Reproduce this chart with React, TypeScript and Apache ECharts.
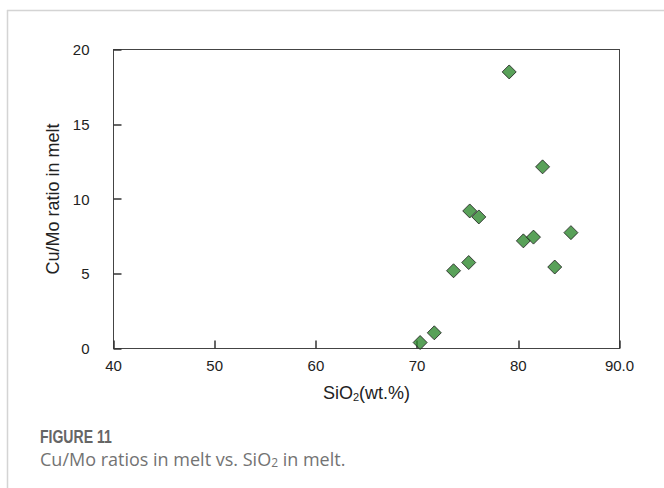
import React, { useEffect, useRef } from "react";
import * as echarts from "echarts";

const sio2 = [70.3, 71.7, 73.6, 75.1, 75.2, 76.1, 79.1, 80.5, 81.5, 82.4, 83.6, 85.2];
const cuMo = [0.4, 1.05, 5.2, 5.75, 9.2, 8.8, 18.5, 7.2, 7.45, 12.15, 5.45, 7.75];
const xTickValues = [40, 50, 60, 70, 80, 90];
const xTickLabels = ["40", "50", "60", "70", "80", "90.0"];
const yTickValues = [0, 5, 10, 15, 20];
const yTickLabels = ["0", "5", "10", "15", "20"];

export default function App() {
  const ref = useRef<HTMLDivElement>(null);
  useEffect(() => {
    const chart = echarts.init(ref.current!, null, { renderer: "svg" });
    const ff = "Liberation Sans";
    const axisFont = { fontFamily: ff, fontSize: 15, color: "#222" };
    const lineCol = "#444";
    const borderAxis = {
      type: "value",
      axisLine: { show: true, onZero: false, lineStyle: { color: lineCol, width: 1 } },
      axisTick: { show: false },
      axisLabel: { show: false },
      splitLine: { show: false },
    };
    const tickAxis = {
      type: "value",
      offset: -8,
      axisLine: { show: false, onZero: false },
      axisTick: { show: true, length: 8, lineStyle: { color: "#333", width: 1.5 } },
      axisLabel: { show: false },
      splitLine: { show: false },
    };
    chart.setOption({
      animation: false,
      backgroundColor: "#fff",
      grid: { left: 113.5, right: 44.5, top: 49.5, bottom: 139.5 },
      xAxis: [
        {
          type: "value",
          min: 40,
          max: 90,
          interval: 10,
          axisLine: { show: true, onZero: false, lineStyle: { color: lineCol, width: 1 } },
          axisTick: { show: false },
          splitLine: { show: false },
          axisLabel: {
            ...axisFont,
            margin: 9,
            formatter: (v: number) => {
              const i = xTickValues.indexOf(v);
              return i >= 0 ? xTickLabels[i] : "";
            },
          },
          name: "{a|SiO}{s|2}{a|(wt.%)}",
          nameLocation: "middle",
          nameGap: 35,
          nameTextStyle: {
            rich: {
              a: { fontFamily: ff, fontSize: 18, color: "#222" },
              s: { fontFamily: ff, fontSize: 11, color: "#222", verticalAlign: "bottom", padding: [8, 0, 0, 0] },
            },
          },
        },
        { ...borderAxis, position: "top", min: 40, max: 90 },
        { ...tickAxis, position: "bottom", min: 40, max: 90, interval: 10 },
      ],
      yAxis: [
        {
          type: "value",
          min: 0,
          max: 20,
          interval: 5,
          axisLine: { show: true, onZero: false, lineStyle: { color: lineCol, width: 1 } },
          axisTick: { show: false },
          splitLine: { show: false },
          axisLabel: {
            ...axisFont,
            margin: 24,
            formatter: (v: number) => {
              const i = yTickValues.indexOf(v);
              return i >= 0 ? yTickLabels[i] : "";
            },
          },
          name: "Cu/Mo ratio in melt",
          nameLocation: "middle",
          nameGap: 47,
          nameTextStyle: { fontFamily: ff, fontSize: 18, color: "#222" },
        },
        { ...borderAxis, position: "right", min: 0, max: 20 },
        { ...tickAxis, position: "left", min: 0, max: 20, interval: 5 },
      ],
      series: [
        {
          type: "scatter",
          symbol: "diamond",
          symbolSize: 14,
          itemStyle: { color: "#2f8a2f", borderColor: "#1a1a1a", borderWidth: 1 },
          data: sio2.map((x, i) => [x, cuMo[i]]),
        },
      ],
      graphic: [
        { type: "line", shape: { x1: 7, y1: 10.5, x2: 664, y2: 10.5 }, style: { stroke: "#d4d4d4", lineWidth: 1.5 } },
        { type: "line", shape: { x1: 7.5, y1: 10, x2: 7.5, y2: 488 }, style: { stroke: "#d4d4d4", lineWidth: 1.5 } },
        {
          type: "text",
          x: 40,
          y: 427,
          scaleX: 0.78,
          style: { text: "FIGURE 11", fontFamily: ff, fontWeight: "bold", fontSize: 18, fill: "#666" },
        },
        {
          type: "text",
          left: 40,
          top: 450,
          style: {
            text: "{a|Cu/Mo ratios in melt vs. SiO}{s|2}{a| in melt.}",
            rich: {
              a: { fontFamily: "Open Sans", fontSize: 18, fill: "#737373" },
              s: { fontFamily: "Open Sans", fontSize: 12, fill: "#737373", verticalAlign: "bottom", padding: [7, 0, 0, 0] },
            },
          },
        },
      ],
    });
    return () => chart.dispose();
  }, []);
  return <div ref={ref} style={{ position: "absolute", left: 0, top: 0, width: 664, height: 488 }} />;
}
